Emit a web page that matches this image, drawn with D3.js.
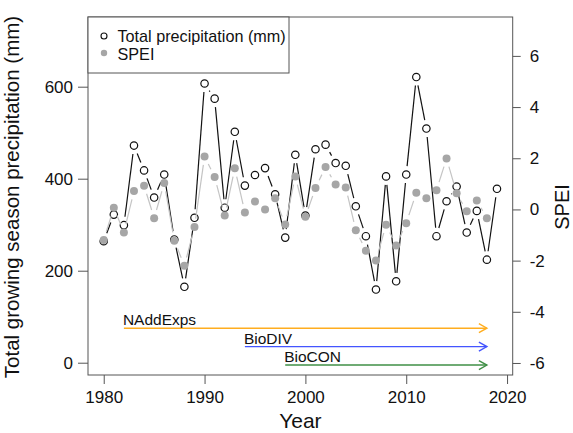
<!DOCTYPE html>
<html><head><meta charset="utf-8">
<script src="https://cdn.jsdelivr.net/npm/d3@7"></script>
<style>
body{margin:0;background:#fff}
svg{display:block}
text{font-family:"Liberation Sans",Arial,sans-serif;fill:#111}
</style>
</head><body>
<svg id="chart" width="573" height="433"></svg>
<script>
// ---- data ----
const years = [1980,1981,1982,1983,1984,1985,1986,1987,1988,1989,
               1990,1991,1992,1993,1994,1995,1996,1997,1998,1999,
               2000,2001,2002,2003,2004,2005,2006,2007,2008,2009,
               2010,2011,2012,2013,2014,2015,2016,2017,2018,2019];
const precipitation = [264,322,299,472,418,359,409,268,165,315,
                       607,574,337,502,385,408,423,366,272,452,
                       320,464,474,434,428,340,275,159,405,177,
                       409,621,509,275,351,383,283,330,224,378];
const speiYears = [1980,1981,1982,1983,1984,1985,1986,1987,1988,1989,
                   1990,1991,1992,1993,1994,1995,1996,1997,1998,1999,
                   2000,2001,2002,2003,2004,2005,2006,2007,2008,2009,
                   2010,2011,2012,2013,2014,2015,2016,2017,2018];
const spei = [-1.19,0.07,-0.90,0.72,0.93,-0.34,1.03,-1.22,-2.20,-0.69,
              2.07,1.27,-0.24,1.61,-0.12,0.31,0.00,0.44,-0.59,1.29,
              -0.29,0.84,1.66,0.97,0.86,-0.81,-1.61,-2.00,-0.60,-1.41,
              -0.54,0.65,0.44,0.75,1.99,0.63,-0.07,0.35,-0.34];
const xTicks = [1980,1990,2000,2010,2020];
const precipTicks = [0,200,400,600];
const speiTicks = [-6,-4,-2,0,2,4,6];
const experiments = ["NAddExps","BioDIV","BioCON"];
const expStart = [1982,1994,1998];
const expEnd = [2018,2018,2018];
const expLevel = [75,35,-5];   // in precipitation units
const legendLabels = ["Total precipitation (mm)","SPEI"];

// ---- styles ----
const expColors = ["#ffad1f","#4455ff","#3f8f46"];
const frameColor = "#555";
const speiDot = "#a6a6a6";
const speiLine = "#c4c4c4";

// ---- layout ----
const L = 88, R = 512.7, T = 17, B = 375;
const svg = d3.select("#chart");
svg.append("rect").attr("width",573).attr("height",433).attr("fill","#fff");

const x = d3.scaleLinear().domain([1978.44, 2020.56]).range([L, R]);
const yP = d3.scaleLinear().domain([-26.7, 751.5]).range([B, T]);
const yS = d3.scaleLinear().domain([-6.47, 7.52]).range([B, T]);

function gapSegments(pts, gap){
  const segs = [];
  for (let i = 0; i < pts.length - 1; i++){
    const [x0,y0] = pts[i], [x1,y1] = pts[i+1];
    const dx = x1-x0, dy = y1-y0, len = Math.hypot(dx,dy);
    if (len > 2*gap){
      const ux = dx/len, uy = dy/len;
      segs.push([x0+ux*gap, y0+uy*gap, x1-ux*gap, y1-uy*gap]);
    }
  }
  return segs;
}

// precipitation series (type = "b")
const pPts = years.map((yr,i)=>[x(yr), yP(precipitation[i])]);
svg.append("g").selectAll("line").data(gapSegments(pPts, 8.5)).join("line")
  .attr("x1",d=>d[0]).attr("y1",d=>d[1]).attr("x2",d=>d[2]).attr("y2",d=>d[3])
  .attr("stroke","#111").attr("stroke-width",1.2);
svg.append("g").selectAll("circle").data(pPts).join("circle")
  .attr("cx",d=>d[0]).attr("cy",d=>d[1]).attr("r",3.7)
  .attr("fill","none").attr("stroke","#111").attr("stroke-width",1.2);

// SPEI series
const sPts = speiYears.map((yr,i)=>[x(yr), yS(spei[i])]);
svg.append("g").selectAll("line").data(gapSegments(sPts, 8.5)).join("line")
  .attr("x1",d=>d[0]).attr("y1",d=>d[1]).attr("x2",d=>d[2]).attr("y2",d=>d[3])
  .attr("stroke",speiLine).attr("stroke-width",1.2);
svg.append("g").selectAll("circle").data(sPts).join("circle")
  .attr("cx",d=>d[0]).attr("cy",d=>d[1]).attr("r",4)
  .attr("fill",speiDot);

// experiment arrows
experiments.forEach((name,i)=>{
  const xs = x(expStart[i]), xe = x(expEnd[i]), yy = yP(expLevel[i]);
  const g = svg.append("g").attr("stroke",expColors[i]).attr("stroke-width",1.4).attr("fill","none");
  g.append("line").attr("x1",xs).attr("x2",xe).attr("y1",yy).attr("y2",yy);
  g.append("path").attr("d",`M${xe-8},${yy-4.5}L${xe},${yy}L${xe-8},${yy+4.5}`);
  svg.append("text").attr("x",xs-1).attr("y",yy-3).attr("font-size",15.5).text(name);
});

// frame
svg.append("rect").attr("x",L).attr("y",T).attr("width",R-L).attr("height",B-T)
  .attr("fill","none").attr("stroke",frameColor).attr("stroke-width",1);

// axes
function styleAxis(g){
  g.select(".domain").remove();
  g.selectAll(".tick line").attr("stroke",frameColor);
  g.selectAll(".tick text").attr("font-size",17).attr("fill","#111")
    .attr("font-family","'Liberation Sans',Arial,sans-serif");
}
svg.append("g").attr("transform",`translate(0,${B})`)
  .call(d3.axisBottom(x).tickValues(xTicks).tickFormat(d3.format("d")).tickSize(9).tickPadding(7))
  .call(styleAxis);
svg.append("g").attr("transform",`translate(${L},0)`)
  .call(d3.axisLeft(yP).tickValues(precipTicks).tickFormat(d3.format("d")).tickSize(10).tickPadding(5))
  .call(styleAxis);
svg.append("g").attr("transform",`translate(${R},0)`)
  .call(d3.axisRight(yS).tickValues(speiTicks).tickFormat(d3.format("d")).tickSize(8).tickPadding(9))
  .call(styleAxis);
// minus sign as hyphen like R
svg.selectAll(".tick text").text(function(){ return this.textContent.replace("\u2212","-"); });

// axis titles
svg.append("text").attr("x",(L+R)/2).attr("y",428).attr("text-anchor","middle")
  .attr("font-size",21).text("Year");
svg.append("text").attr("transform","translate(18.5,197) rotate(-90)").attr("text-anchor","middle")
  .attr("font-size",20.5).text("Total growing season precipitation (mm)");
svg.append("text").attr("transform","translate(568.5,207) rotate(-90)").attr("text-anchor","middle")
  .attr("font-size",20).text("SPEI");

// legend
svg.append("rect").attr("x",L).attr("y",T).attr("width",201).attr("height",56)
  .attr("fill","#fff").attr("stroke",frameColor).attr("stroke-width",1);
svg.append("circle").attr("cx",104).attr("cy",36).attr("r",3)
  .attr("fill","none").attr("stroke","#111").attr("stroke-width",1.1);
svg.append("circle").attr("cx",104).attr("cy",53).attr("r",3.2).attr("fill",speiDot);
svg.append("text").attr("x",117.5).attr("y",42).attr("font-size",16.2).text(legendLabels[0]);
svg.append("text").attr("x",117.5).attr("y",59.5).attr("font-size",16.2).text(legendLabels[1]);
</script>
</body></html>
